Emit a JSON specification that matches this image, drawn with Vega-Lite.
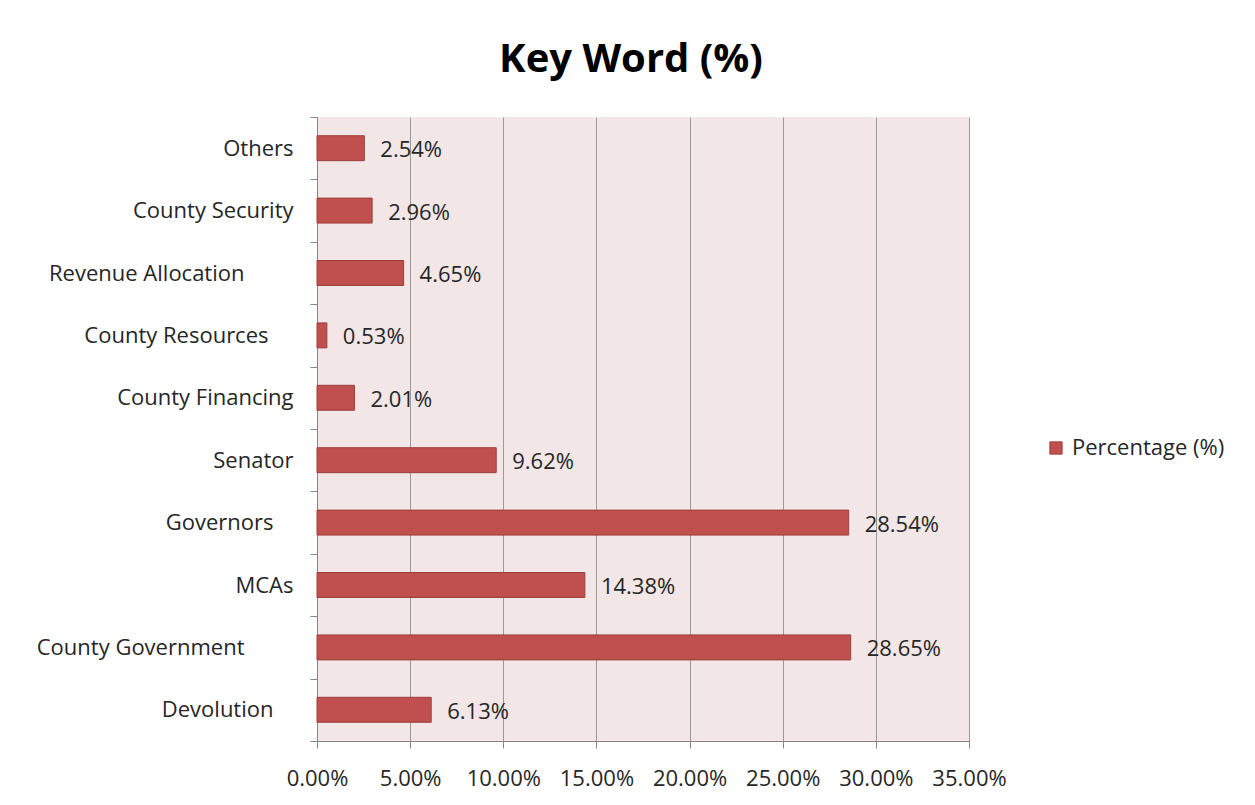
{
  "$schema": "https://vega.github.io/schema/vega-lite/v6.json",
  "autosize": "none",
  "width": 652,
  "height": 624,
  "padding": {"left": 317, "top": 117, "right": 286, "bottom": 64},
  "background": "white",
  "title": {
    "text": "Key Word (%)",
    "font": "Open Sans",
    "fontSize": 40,
    "fontWeight": "bold",
    "color": "#000000",
    "anchor": "middle",
    "dx": -12,
    "offset": 26
  },
  "config": {
    "view": {"fill": "#F2E6E6", "stroke": null},
    "font": "Open Sans",
    "axis": {"labelFont": "Open Sans", "labelFontSize": 22, "labelColor": "#262626"}
  },
  "data": {
    "values": [
      {"keyword": "Others", "value": 0.0254, "series": "Percentage (%)"},
      {"keyword": "County Security", "value": 0.0296, "series": "Percentage (%)"},
      {"keyword": "Revenue Allocation", "value": 0.0465, "series": "Percentage (%)"},
      {"keyword": "County Resources", "value": 0.0053, "series": "Percentage (%)"},
      {"keyword": "County Financing", "value": 0.0201, "series": "Percentage (%)"},
      {"keyword": "Senator", "value": 0.0962, "series": "Percentage (%)"},
      {"keyword": "Governors", "value": 0.2854, "series": "Percentage (%)"},
      {"keyword": "MCAs", "value": 0.1438, "series": "Percentage (%)"},
      {"keyword": "County Government", "value": 0.2865, "series": "Percentage (%)"},
      {"keyword": "Devolution", "value": 0.0613, "series": "Percentage (%)"}
    ]
  },
  "encoding": {
    "y": {
      "field": "keyword",
      "type": "nominal",
      "sort": null,
      "scale": {"paddingInner": 0, "paddingOuter": 0},
      "axis": {
        "title": null,
        "tickBand": "extent",
        "tickSize": 7,
        "tickColor": "#868686",
        "domainColor": "#868686",
        "labelLimit": 0,
        "labelPadding": {
          "condition": [
            {"test": "datum.value === 'Revenue Allocation' || datum.value === 'County Government'", "value": 66},
            {"test": "datum.value === 'County Resources'", "value": 42},
            {"test": "datum.value === 'Governors' || datum.value === 'Devolution'", "value": 37}
          ],
          "value": 17
        },
        "grid": false
      }
    },
    "x": {
      "field": "value",
      "type": "quantitative",
      "scale": {"domain": [0, 0.35], "nice": false},
      "axis": {
        "title": null,
        "format": ".2%",
        "values": [0, 0.05, 0.1, 0.15, 0.2, 0.25, 0.3, 0.35],
        "labelOverlap": false,
        "labelFlush": false,
        "grid": true,
        "gridColor": "#9A9A9A",
        "gridWidth": 1,
        "tickSize": 7,
        "tickColor": "#868686",
        "domainColor": "#868686",
        "labelPadding": 20
      }
    }
  },
  "layer": [
    {
      "mark": {"type": "bar", "height": {"band": 0.4}, "stroke": "#9E3E3B", "strokeWidth": 1},
      "encoding": {
        "color": {
          "field": "series",
          "type": "nominal",
          "scale": {"range": ["#C0504D"]},
          "legend": {
            "title": null,
            "orient": "none",
            "legendX": 728,
            "legendY": 320,
            "symbolType": "square",
            "symbolSize": 150,
            "symbolStrokeColor": "#9E3E3B",
            "symbolStrokeWidth": 1,
            "labelFont": "Open Sans",
            "labelFontSize": 22,
            "labelColor": "#262626",
            "labelOffset": 5
          }
        }
      }
    },
    {
      "mark": {"type": "text", "align": "left", "baseline": "middle", "dx": 16, "dy": 2, "font": "Open Sans", "fontSize": 22, "color": "#262626"},
      "encoding": {
        "text": {"field": "value", "type": "quantitative", "format": ".2%"}
      }
    }
  ]
}
